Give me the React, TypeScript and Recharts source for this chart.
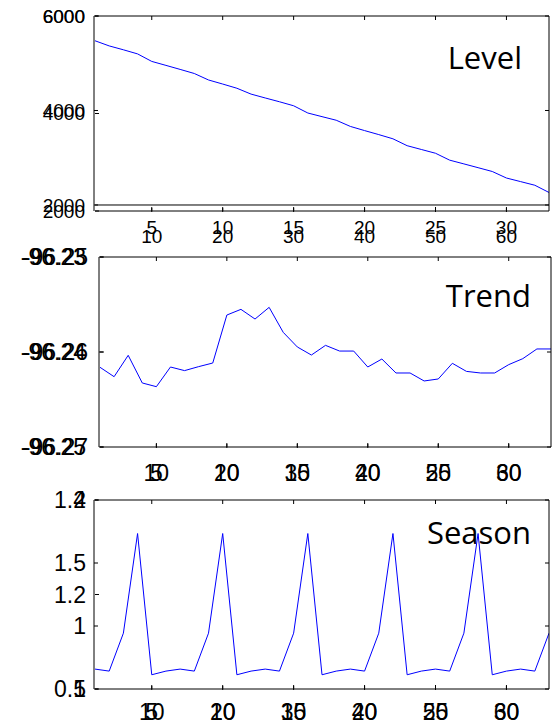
import React from 'react';
import { LineChart, Line, XAxis, YAxis, ReferenceLine } from 'recharts';

// quarter index 1..33
const periods = [1, 2, 3, 4, 5, 6, 7, 8, 9, 10, 11, 12, 13, 14, 15, 16, 17, 18, 19, 20, 21, 22, 23, 24, 25, 26, 27, 28, 29, 30, 31, 32, 33];

const levelValues = [5476, 5367, 5285, 5198, 5039, 4955, 4870, 4783, 4646, 4560, 4471, 4347, 4265, 4185, 4100, 3947, 3870,
    3794, 3663, 3575, 3490, 3401, 3255, 3175, 3095, 2949, 2870, 2790, 2709, 2571, 2495, 2418, 2265];

const trendValues = [-96.26161, -96.2626, -96.26035, -96.26326, -96.26365, -96.26158, -96.26196, -96.26154, -96.26116,
    -96.25611, -96.25551, -96.25653, -96.2553, -96.25793, -96.25947, -96.26032, -96.2593, -96.2599, -96.2599, -96.26158,
    -96.26074, -96.26221, -96.26221, -96.26305, -96.26284, -96.26119, -96.26204, -96.26221, -96.26221, -96.26133,
    -96.2607, -96.25968, -96.25968];

const seasonValues = [0.658, 0.642, 0.943, 1.734, 0.613, 0.642, 0.658, 0.642, 0.943, 1.734, 0.613, 0.642, 0.658, 0.642,
    0.943, 1.734, 0.613, 0.642, 0.658, 0.642, 0.943, 1.734, 0.613, 0.642, 0.658, 0.642, 0.943, 1.734, 0.613, 0.642,
    0.658, 0.642, 0.943];

// two overlaid axes in every panel
const xTicksA = [5, 10, 15, 20, 25, 30];
const xTicksB = [10, 20, 30, 40, 50, 60];
const levelTicksA = [2000, 4000, 6000];
const levelTicksB = [2000, 4000, 6000];
const trendTicksA = [-96.27, -96.26, -96.25];
const trendTicksB = [-96.25, -96.24, -96.23];
const seasonTicksA = [0.5, 1, 1.5, 2];
const seasonTicksB = [1, 1.2, 1.4];

const FONT = 'Liberation Sans, Arial, sans-serif';
const black = { stroke: '#000', strokeWidth: 1 };
const blank = () => '';
const fix2 = (v) => Number(v).toFixed(2);

const rows = periods.map((x, i) => ({
    x,
    level: levelValues[i],
    trend: trendValues[i],
    season: seasonValues[i],
}));

// top and right edges of the box, ticks pointing in
const boxAxes = (key, yDomain, yTicks) => [
    <XAxis key="t" xAxisId="t" dataKey="x" orientation="top" type="number" domain={[1, 33]} allowDataOverflow
        ticks={xTicksA} interval={0} height={1} tickSize={-4} tickFormatter={blank} axisLine={black} tickLine={black} />,
    <YAxis key="r" yAxisId="r" dataKey={key} orientation="right" type="number" domain={yDomain} allowDataOverflow
        ticks={yTicks} interval={0} width={1} tickSize={-4} tickFormatter={blank} axisLine={black} tickLine={black} />,
];

const App: React.FC = () => {
    const tick19 = { fontSize: 19, fill: '#000', fontFamily: FONT };
    const tick23 = { fontSize: 23, fill: '#000', fontFamily: FONT };

    return (
        <div style={{ position: 'absolute', left: 0, top: 0, width: 554, height: 726, background: '#fff' }}>
            {/* Level */}
            <div style={{ position: 'absolute', left: 0, top: 0 }}>
                <LineChart width={554} height={250} data={rows} margin={{ top: 15, right: 4, bottom: 9, left: 35 }}>
                    <XAxis xAxisId="a" dataKey="x" type="number" domain={[1, 33]} allowDataOverflow ticks={xTicksA}
                        interval={0} height={1} tickSize={-4} tickMargin={14} tick={tick19} axisLine={black} tickLine={black} />
                    <XAxis xAxisId="b" dataKey="x" type="number" domain={[2, 66]} allowDataOverflow ticks={xTicksB}
                        interval={0} height={29} tickSize={-4} tickMargin={22} tick={tick19} axisLine={false} tickLine={black} />
                    <YAxis yAxisId="ya" dataKey="level" type="number" domain={[1873, 6000]} allowDataOverflow ticks={levelTicksA}
                        interval={0} width={59} tickSize={-4} tickMargin={13} tick={tick19} axisLine={black} tickLine={black} />
                    <YAxis yAxisId="y0" dataKey="level" type="number" domain={[2000, 6000]} allowDataOverflow ticks={levelTicksB}
                        interval={0} width={1} tickSize={-4} tickMargin={14} tick={tick19} axisLine={false} tickLine={black} />
                    {boxAxes('level', [1873, 6000], levelTicksA)}
                    <ReferenceLine xAxisId="a" yAxisId="ya" y={2000} stroke="#000" />
                    <Line xAxisId="a" yAxisId="ya" dataKey="level" type="linear" stroke="#0000ff" strokeWidth={1}
                        dot={false} isAnimationActive={false} />
                </LineChart>
            </div>

            {/* Trend */}
            <div style={{ position: 'absolute', left: 0, top: 240 }}>
                <LineChart width={554} height={250} data={rows} margin={{ top: 16, right: 2, bottom: 8, left: 20 }}>
                    <XAxis xAxisId="a" dataKey="x" type="number" domain={[1, 33]} allowDataOverflow ticks={xTicksA}
                        interval={0} height={1} tickSize={-4} tickMargin={22} tick={tick23} axisLine={black} tickLine={black} />
                    <XAxis xAxisId="b" dataKey="x" type="number" domain={[2, 66]} allowDataOverflow ticks={xTicksB}
                        interval={0} height={34} tickSize={-4} tickMargin={21} tick={tick23} axisLine={false} tickLine={black} />
                    <YAxis yAxisId="ya" dataKey="trend" type="number" domain={[-96.27, -96.25]} allowDataOverflow ticks={trendTicksA}
                        interval={0} width={79} tickSize={-4} tickMargin={15} tick={tick23} axisLine={black} tickLine={black}
                        tickFormatter={fix2} />
                    <YAxis yAxisId="y0" dataKey="trend" type="number" domain={[-96.25, -96.23]} allowDataOverflow ticks={trendTicksB}
                        interval={0} width={1} tickSize={-4} tickMargin={18} tick={tick23} axisLine={false} tickLine={black}
                        tickFormatter={fix2} />
                    {boxAxes('trend', [-96.27, -96.25], trendTicksA)}
                    <Line xAxisId="a" yAxisId="ya" dataKey="trend" type="linear" stroke="#0000ff" strokeWidth={1}
                        dot={false} isAnimationActive={false} />
                </LineChart>
            </div>

            {/* Season */}
            <div style={{ position: 'absolute', left: 0, top: 480 }}>
                <LineChart width={554} height={246} data={rows} margin={{ top: 19, right: 4, bottom: 7, left: 35 }}>
                    <XAxis xAxisId="a" dataKey="x" type="number" domain={[1, 33]} allowDataOverflow ticks={xTicksA}
                        interval={0} height={1} tickSize={-4} tickMargin={19} tick={tick23} axisLine={black} tickLine={black} />
                    <XAxis xAxisId="b" dataKey="x" type="number" domain={[2, 66]} allowDataOverflow ticks={xTicksB}
                        interval={0} height={29} tickSize={-4} tickMargin={18} tick={tick23} axisLine={false} tickLine={black} />
                    <YAxis yAxisId="ya" dataKey="season" type="number" domain={[0.5, 2]} allowDataOverflow ticks={seasonTicksA}
                        interval={0} width={59} tickSize={-4} tickMargin={12} tick={tick23} axisLine={black} tickLine={black} />
                    <YAxis yAxisId="y0" dataKey="season" type="number" domain={[1, 1.4]} allowDataOverflow ticks={seasonTicksB}
                        interval={0} width={1} tickSize={-4} tickMargin={13} tick={tick23} axisLine={false} tickLine={black} />
                    {boxAxes('season', [0.5, 2], seasonTicksA)}
                    <Line xAxisId="a" yAxisId="ya" dataKey="season" type="linear" stroke="#0000ff" strokeWidth={1}
                        dot={false} isAnimationActive={false} />
                </LineChart>
            </div>

            <svg width={554} height={726} style={{ position: 'absolute', left: 0, top: 0, pointerEvents: 'none' }}>
                <g fontFamily="Open Sans, sans-serif" fontSize={31} fill="#000" textAnchor="end">
                    <text x={522} y={69}>Level</text>
                    <text x={531} y={307}>Trend</text>
                    <text x={531} y={544}>Season</text>
                </g>
            </svg>
        </div>
    );
};

export default App;
